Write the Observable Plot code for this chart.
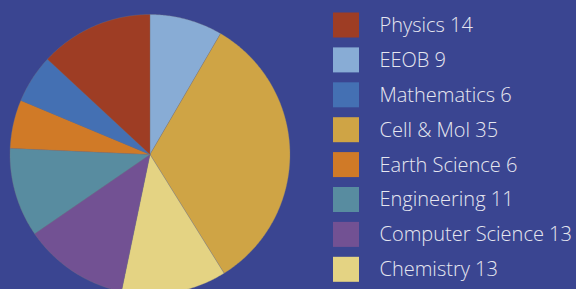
<!DOCTYPE html>
<html>
<head>
<meta charset="utf-8">
<script src="https://cdn.jsdelivr.net/npm/d3@7"></script>
<script src="https://cdn.jsdelivr.net/npm/@observablehq/plot@0.6"></script>
<style>
  html, body { margin: 0; padding: 0; background: #3A4591; }
  #chart svg { display: block; }
</style>
</head>
<body>
<div id="chart"></div>
<script>
// Legend order (as listed on the right)
const categories = ["Physics", "EEOB", "Mathematics", "Cell & Mol", "Earth Science", "Engineering", "Computer Science", "Chemistry"];
const counts     = [14, 9, 6, 35, 6, 11, 13, 13];
const colors     = ["#9E3D24", "#88ACD5", "#4470B3", "#CFA445", "#D07A27", "#588CA0", "#725193", "#E4D383"];
// Order of slices clockwise from 12 o'clock
const pieOrder   = ["EEOB", "Cell & Mol", "Chemistry", "Computer Science", "Engineering", "Earth Science", "Mathematics", "Physics"];

const W = 576, H = 289;
const cx = 149.5, cy = 154, R = 140;

const rows = categories.map((name, i) => ({name, count: counts[i], color: colors[i], i, label: `${name} ${counts[i]}`}));
const byName = new Map(rows.map(d => [d.name, d]));
const ordered = pieOrder.map(n => byName.get(n));

const arcs = d3.pie().sort(null).value(d => d.count).startAngle(0).endAngle(2 * Math.PI)(ordered);

// polygon points for each slice
const pts = [];
for (const a of arcs) {
  const n = Math.max(2, Math.ceil((a.endAngle - a.startAngle) / 0.01));
  pts.push({name: a.data.name, x: cx, y: cy});
  for (let k = 0; k <= n; k++) {
    const t = a.startAngle + (a.endAngle - a.startAngle) * k / n;
    pts.push({name: a.data.name, x: cx + R * Math.sin(t), y: cy - R * Math.cos(t)});
  }
  pts.push({name: a.data.name, x: cx, y: cy});
}

const legX = 333, swW = 26, swH = 25, legTop = 25, legStep = 34.9, textX = 379;

const chart = Plot.plot({
  width: W,
  height: H,
  margin: 0,
  style: {background: "#3A4591", overflow: "hidden"},
  x: {domain: [0, W], range: [0, W], axis: null},
  y: {domain: [0, H], range: [0, H], axis: null},
  color: {domain: categories, range: colors},
  marks: [
    Plot.line(pts, {x: "x", y: "y", z: "name", fill: "name", stroke: "#7a7a80", strokeWidth: 0.5, strokeOpacity: 0.6, curve: "linear-closed"}),
    Plot.rect(rows, {
      x1: () => legX, x2: () => legX + swW,
      y1: d => legTop + d.i * legStep - swH / 2, y2: d => legTop + d.i * legStep + swH / 2,
      fill: "name"
    }),
    Plot.text(rows, {
      x: () => textX, y: d => legTop + d.i * legStep,
      text: "label", textAnchor: "start", fill: "#E6E7F0",
      fontSize: 20, fontWeight: 300, fontFamily: "Open Sans", dy: 0
    })
  ]
});
document.getElementById("chart").append(chart);
</script>
</body>
</html>
